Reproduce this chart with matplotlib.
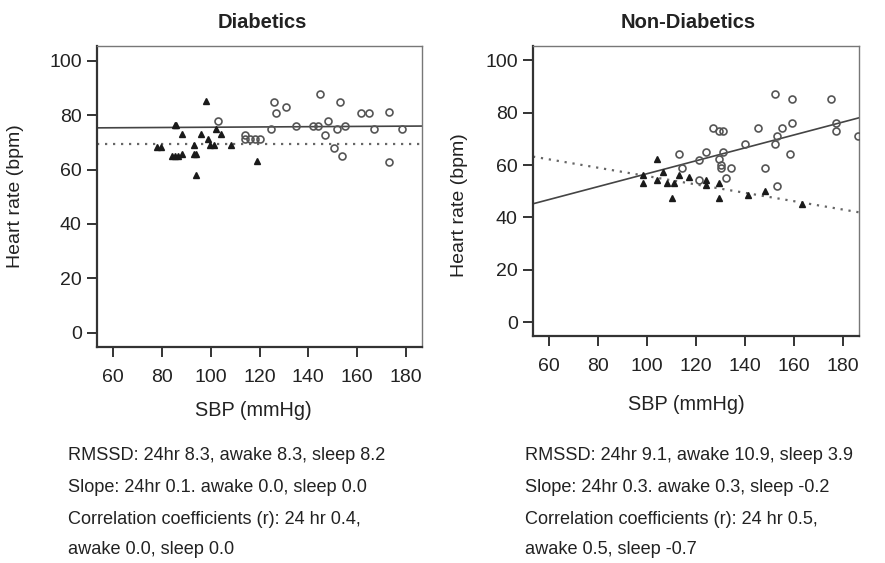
import matplotlib
matplotlib.use("Agg")
import matplotlib.pyplot as plt
import numpy as np

plt.rcParams["font.family"] = ["Liberation Sans", "DejaVu Sans"]

# =========================
# data
# =========================
# Diabetics - sleep (filled triangles)
dia_sleep_sbp = [78.2, 79.8, 85.3, 86.0, 84.0, 85.3, 86.7, 88.3, 88.3, 93.2, 93.2, 94.1,
                 94.1, 96.2, 98.0, 98.9, 99.9, 101.2, 102.0, 104.1, 108.2, 119.1]
dia_sleep_hr = [68.4, 68.4, 76.3, 76.3, 65.1, 65.1, 65.1, 65.9, 73.0, 69.0, 65.9, 65.9,
                58.0, 73.0, 85.1, 71.1, 69.0, 69.0, 75.1, 73.0, 69.0, 63.2]
# Diabetics - awake (open circles)
dia_awake_sbp = [103.0, 114.2, 114.2, 116.2, 118.0, 120.0, 125.9, 126.9, 124.9, 131.0,
                 135.0, 141.8, 143.8, 144.9, 146.8, 147.9, 150.6, 151.7, 152.8, 153.7,
                 155.0, 161.6, 164.8, 166.7, 173.0, 173.0, 178.4]
dia_awake_hr = [77.9, 72.9, 71.1, 71.1, 71.1, 71.1, 84.9, 81.0, 74.9, 82.9,
                76.0, 76.0, 76.0, 88.0, 72.9, 77.9, 67.9, 74.9, 84.9, 65.0,
                76.0, 81.0, 81.0, 74.9, 81.1, 62.8, 74.9]

# Non-Diabetics - sleep (filled triangles)
non_sleep_sbp = [98.5, 98.3, 104.2, 104.2, 106.4, 108.0, 111.0, 110.2, 113.2, 117.1,
                 124.1, 124.1, 129.3, 129.3, 141.2, 148.3, 163.1]
non_sleep_hr = [56.3, 53.0, 62.2, 54.3, 57.2, 53.3, 53.3, 47.3, 56.3, 55.3,
                54.3, 52.3, 53.3, 47.3, 48.4, 50.2, 45.1]
# Non-Diabetics - awake (open circles)
non_awake_sbp = [113.2, 114.2, 121.2, 121.2, 124.2, 127.1, 129.3, 131.2, 131.2, 129.3,
                 130.0, 130.0, 132.1, 134.1, 140.1, 145.2, 148.2, 152.2, 152.2, 153.2,
                 153.2, 155.2, 159.2, 159.2, 158.2, 175.1, 177.1, 177.1, 186.0]
non_awake_hr = [64.1, 59.0, 62.1, 54.2, 65.1, 74.1, 73.2, 73.2, 65.1, 62.2,
                60.2, 59.0, 55.1, 59.0, 68.1, 74.1, 59.0, 87.1, 68.1, 71.0,
                52.1, 74.1, 85.1, 76.1, 64.1, 85.1, 76.1, 73.2, 71.0]

# fitted lines: (intercept, slope)
dia_fit_awake = (75.1, 0.005)
dia_fit_sleep = (69.5, 0.0)
non_fit_awake = (32.0, 0.247)
non_fit_sleep = (71.8, -0.16)

titles = ["Diabetics", "Non-Diabetics"]
notes = [
    ["RMSSD: 24hr 8.3, awake 8.3, sleep 8.2",
     "Slope: 24hr 0.1. awake 0.0, sleep 0.0",
     "Correlation coefficients (r): 24 hr 0.4,",
     "awake 0.0, sleep 0.0"],
    ["RMSSD: 24hr 9.1, awake 10.9, sleep 3.9",
     "Slope: 24hr 0.3. awake 0.3, sleep -0.2",
     "Correlation coefficients (r): 24 hr 0.5,",
     "awake 0.5, sleep -0.7"],
]


def draw_panel(ax, s_x, s_y, a_x, a_y, fit_a, fit_s):
    xlim = (53.5, 186.5)
    xx = np.array(xlim)
    ax.plot(xx, fit_a[0] + fit_a[1] * xx, color="#444444", lw=1.2, zorder=2)
    ax.plot(xx, fit_s[0] + fit_s[1] * xx, color="#666666", lw=1.6,
            linestyle=(0, (1, 2.6)), zorder=2)
    ax.plot(a_x, a_y, "o", ms=5, mfc="none", mec="#555555", mew=1.2, zorder=3)
    ax.plot(s_x, s_y, "^", ms=5, color="#1a1a1a", zorder=3)
    ax.set_xlim(*xlim)
    ax.set_ylim(-5.3, 105.5)
    ax.set_xticks(range(60, 181, 20))
    ax.set_yticks(range(0, 101, 20))
    for side in ["top", "right"]:
        ax.spines[side].set_color("#777777")
        ax.spines[side].set_linewidth(1.0)
    for side in ["left", "bottom"]:
        ax.spines[side].set_color("#333333")
        ax.spines[side].set_linewidth(1.6)
    ax.tick_params(direction="out", length=7, width=1.4, color="#333333",
                   labelsize=14, pad=4, labelcolor="#222222")
    ax.tick_params(axis="x", pad=9)
    ax.set_xlabel("SBP (mmHg)", fontsize=14.3, color="#222222")
    ax.set_ylabel("Heart rate (bpm)", fontsize=14, color="#222222")


fig = plt.figure(figsize=(8.85, 5.63), dpi=100)
ax1 = fig.add_axes([97 / 885, 1 - 347 / 563, 325 / 885, 301 / 563])
ax2 = fig.add_axes([533 / 885, 1 - 336 / 563, 326 / 885, 290 / 563])

draw_panel(ax1, dia_sleep_sbp, dia_sleep_hr, dia_awake_sbp, dia_awake_hr,
           dia_fit_awake, dia_fit_sleep)
draw_panel(ax2, non_sleep_sbp, non_sleep_hr, non_awake_sbp, non_awake_hr,
           non_fit_awake, non_fit_sleep)

ax1.yaxis.set_label_coords(-0.225, 0.5)
ax1.xaxis.set_label_coords(0.48, -0.18)
ax2.yaxis.set_label_coords(-0.2, 0.45)
ax2.xaxis.set_label_coords(0.47, -0.205)

fig.text(262 / 885, 1 - 22 / 563, titles[0], ha="center", va="center",
         fontsize=14.5, fontweight="bold", color="#222222")
fig.text(688 / 885, 1 - 22 / 563, titles[1], ha="center", va="center",
         fontsize=14.5, fontweight="bold", color="#222222")

line_y = [455, 488, 519, 550]
for x0, lines in zip([68, 525], notes):
    for yy, txt in zip(line_y, lines):
        fig.text(x0 / 885, 1 - yy / 563, txt, ha="left", va="center",
                 fontsize=13.1, color="#222222")

fig.savefig("out.png", dpi=100)
